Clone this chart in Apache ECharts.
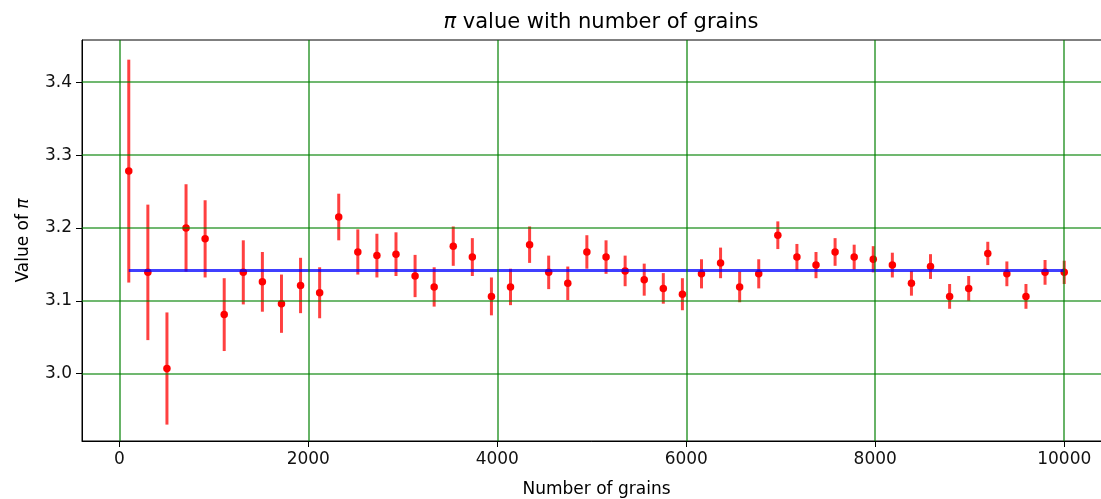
<!DOCTYPE html>
<html>
<head>
<meta charset="utf-8">
<script src="https://cdn.jsdelivr.net/npm/echarts@6/dist/echarts.min.js"></script>
<style>
html,body{margin:0;padding:0;background:#fff;}
#chart{width:1101px;height:499px;}
</style>
</head>
<body>
<div id="chart"></div>
<script>
// ---- data ----
const grains = [100, 302, 504, 706, 908, 1110, 1312, 1514, 1716, 1918,
  2120, 2322, 2524, 2726, 2928, 3130, 3332, 3534, 3736, 3938,
  4140, 4342, 4544, 4746, 4948, 5151, 5353, 5555, 5757, 5959,
  6161, 6363, 6565, 6767, 6969, 7171, 7373, 7575, 7777, 7979,
  8181, 8383, 8585, 8787, 8989, 9191, 9393, 9595, 9797, 10000];
const piEstimate = [3.278, 3.139, 3.007, 3.200, 3.185, 3.081, 3.139, 3.126, 3.096, 3.121,
  3.111, 3.215, 3.167, 3.162, 3.164, 3.134, 3.119, 3.175, 3.160, 3.106,
  3.119, 3.177, 3.139, 3.124, 3.167, 3.160, 3.141, 3.129, 3.117, 3.109,
  3.137, 3.152, 3.119, 3.137, 3.190, 3.160, 3.149, 3.167, 3.160, 3.157,
  3.149, 3.124, 3.147, 3.106, 3.117, 3.165, 3.137, 3.106, 3.139, 3.139];
const piError = [0.153, 0.093, 0.077, 0.060, 0.053, 0.050, 0.044, 0.041, 0.040, 0.038,
  0.035, 0.032, 0.031, 0.030, 0.030, 0.029, 0.027, 0.027, 0.026, 0.026,
  0.025, 0.025, 0.023, 0.023, 0.023, 0.023, 0.021, 0.022, 0.021, 0.022,
  0.020, 0.021, 0.021, 0.020, 0.019, 0.018, 0.018, 0.019, 0.017, 0.018,
  0.017, 0.017, 0.017, 0.017, 0.017, 0.016, 0.017, 0.017, 0.017, 0.016];
const trueLine = [[100, Math.PI], [10000, Math.PI]];
const xTicks = [0, 2000, 4000, 6000, 8000, 10000];
const yTicks = [3.0, 3.1, 3.2, 3.3, 3.4];

const FONT = 'DejaVu Sans';
const chart = echarts.init(document.getElementById('chart'), null, {renderer: 'canvas'});

const gridLineStyle = {color: 'rgba(0,128,0,0.75)', width: 1.6, type: 'solid'};

const option = {
  animation: false,
  backgroundColor: '#fff',
  textStyle: {fontFamily: FONT},
  title: {
    text: '{i|π} value with number of grains',
    left: 596,
    top: 7,
    textAlign: 'center',
    textStyle: {
      fontFamily: FONT, fontSize: 21, fontWeight: 'normal', color: '#000',
      rich: {i: {fontFamily: FONT, fontSize: 21, fontStyle: 'italic', color: '#000'}}
    }
  },
  grid: {
    left: 82, top: 40, width: 1029, height: 401,
    outerBoundsMode: 'none', containLabel: false,
    show: true, borderColor: '#000', borderWidth: 1, backgroundColor: 'transparent'
  },
  xAxis: {
    type: 'value', min: -395, max: 10495,
    name: 'Number of grains', nameLocation: 'middle', nameGap: 40,
    nameTextStyle: {fontFamily: FONT, fontSize: 17, color: '#000'},
    axisLine: {show: true, onZero: false, lineStyle: {color: '#000', width: 1}},
    axisTick: {show: true, customValues: xTicks, length: 6, lineStyle: {color: '#000', width: 1}},
    axisLabel: {customValues: xTicks, fontFamily: FONT, fontSize: 17, color: '#111', margin: 10,
      formatter: v => String(v)},
    splitLine: {show: false}
  },
  yAxis: {
    type: 'value', min: 2.9075, max: 3.458,
    name: 'Value of {i|π}', nameLocation: 'middle', nameGap: 50, nameRotate: 90,
    nameTextStyle: {fontFamily: FONT, fontSize: 17, color: '#000',
      rich: {i: {fontFamily: FONT, fontSize: 17, fontStyle: 'italic', color: '#000'}}},
    axisLine: {show: true, onZero: false, lineStyle: {color: '#000', width: 1}},
    axisTick: {show: true, customValues: yTicks, length: 6, lineStyle: {color: '#000', width: 1}},
    axisLabel: {customValues: yTicks, fontFamily: FONT, fontSize: 17, color: '#111', margin: 10,
      formatter: v => Number(v).toFixed(1)},
    splitLine: {show: false}
  },
  series: [
    {
      type: 'line', data: [], z: 1, silent: true,
      markLine: {
        silent: true, symbol: ['none', 'none'], animation: false,
        label: {show: false},
        lineStyle: gridLineStyle,
        emphasis: {disabled: true},
        data: xTicks.map(v => ({xAxis: v})).concat(yTicks.map(v => ({yAxis: v})))
      }
    },
    {
      type: 'custom', z: 2, silent: true,
      data: grains.map((g, i) => [g, piEstimate[i], piError[i]]),
      encode: {x: 0, y: 1},
      renderItem: function (params, api) {
        const x = api.value(0), y = api.value(1), e = api.value(2);
        const top = api.coord([x, y + e]);
        const bot = api.coord([x, y - e]);
        return {
          type: 'line',
          shape: {x1: top[0], y1: top[1], x2: bot[0], y2: bot[1]},
          style: {stroke: 'rgba(255,0,0,0.75)', lineWidth: 3}
        };
      }
    },
    {
      type: 'scatter', z: 3, silent: true,
      data: grains.map((g, i) => [g, piEstimate[i]]),
      symbol: 'circle', symbolSize: 7.5,
      itemStyle: {color: '#ff0000', opacity: 1}
    },
    {
      type: 'line', data: trueLine, z: 4, symbol: 'none', silent: true,
      lineStyle: {color: 'rgba(0,0,255,0.75)', width: 3}
    }
  ]
};
chart.setOption(option);
</script>
</body>
</html>
